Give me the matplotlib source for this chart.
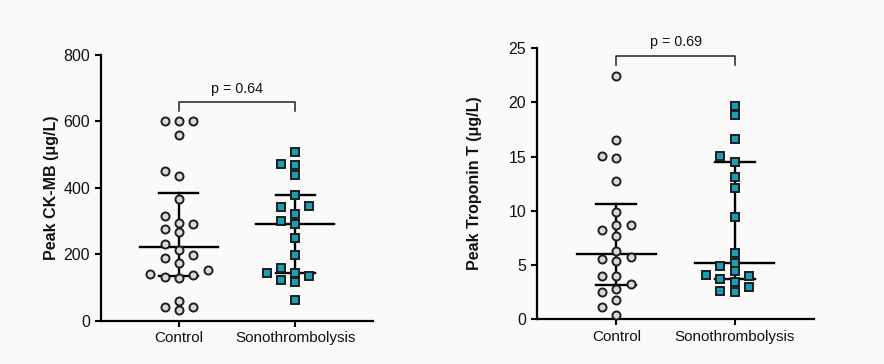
import numpy as np
import matplotlib
matplotlib.use("Agg")
import matplotlib.pyplot as plt

plt.rcParams['font.family'] = ['Liberation Sans', 'DejaVu Sans']

groups = ["Control", "Sonothrombolysis"]

# peak CK-MB (ug/L)
ckmb_control = [600, 600, 600, 560, 451, 436, 367, 315, 294, 292, 275, 267, 231,
                213, 196, 189, 173, 151, 141, 136, 131, 129, 58, 42, 40, 32]
ckmb_sono = [508, 473, 468, 440, 379, 345, 342, 320, 299, 292, 250, 198, 159,
             143, 143, 134, 121, 116, 62]
ckmb_p = "p = 0.64"

# peak troponin T (ug/L)
trop_control = [22.4, 16.5, 15.1, 14.9, 12.7, 9.9, 8.7, 8.7, 8.2, 7.7, 6.3, 5.7,
                5.5, 5.4, 4.0, 4.0, 3.2, 2.8, 2.5, 1.8, 1.1, 0.4]
trop_sono = [19.7, 18.8, 16.6, 15.1, 14.5, 13.1, 12.1, 9.4, 6.1, 5.2, 4.9, 4.4,
             4.1, 4.0, 3.7, 3.4, 3.0, 2.6, 2.5]
trop_p = "p = 0.69"

BG = "#fafafa"
TEAL = "#1b9db5"
GREY = "#d9d9d9"
EDGE = "#1e1e1e"


def swarm(ax, x0, vals, step_px=14.3, dmin_px=8.6):
    """grid-ish beeswarm in pixel space, returns x positions in data units"""
    pts = ax.transData.transform(np.column_stack([np.full(len(vals), x0), vals]))
    ypx = pts[:, 1]
    xpx_per_unit = ax.transData.transform([[1, 0]])[0, 0] - ax.transData.transform([[0, 0]])[0, 0]
    order = np.argsort(vals)
    placed = []
    offs = np.zeros(len(vals))
    cands = [0]
    for k in range(1, 12):
        cands += [-k * 0.5, k * 0.5]
    for i in order:
        for c in cands:
            ok = True
            for (px, py) in placed:
                if abs(c - px) * step_px < step_px * 0.95 and abs(ypx[i] - py) < dmin_px:
                    ok = False
                    break
            if ok:
                offs[i] = c
                placed.append((c, ypx[i]))
                break
    return x0 + offs * step_px / xpx_per_unit


def panel(ax, data, ylim, yticks, ylabel, ptext, pbar, pleg, ptxt):
    ax.set_facecolor(BG)
    ax.set_xlim(-0.67, 1.67)
    ax.set_ylim(*ylim)
    markers = ["o", "s"]
    fills = [GREY, TEAL]
    for i, vals in enumerate(data):
        vals = np.array(vals, dtype=float)
        med = np.median(vals)
        q1, q3 = np.percentile(vals, [25, 75], method="weibull")
        ax.plot([i - 0.336, i + 0.336], [med, med], color="black", lw=1.7, zorder=2)
        ax.plot([i - 0.168, i + 0.168], [q1, q1], color="black", lw=1.7, zorder=2)
        ax.plot([i - 0.168, i + 0.168], [q3, q3], color="black", lw=1.7, zorder=2)
        ax.plot([i, i], [q1, q3], color="black", lw=1.7, zorder=2)
        xs = swarm(ax, i, vals)
        ax.plot(xs, vals, ls="none", marker=markers[i], ms=5.8, mfc=fills[i],
                mec=EDGE, mew=1.4, zorder=3, clip_on=False)
    # significance bracket
    ax.plot([0, 0, 1, 1], [pleg, pbar, pbar, pleg], color="#222222", lw=1.1,
            clip_on=False, zorder=4)
    ax.text(0.5, ptxt, ptext, ha="center", va="center", fontsize=10.3,
            color="#111111")
    ax.set_xticks([0, 1])
    ax.set_xticklabels(groups, fontsize=11, color="#111111")
    ax.set_yticks(yticks)
    ax.tick_params(axis="y", labelsize=11.5, labelcolor="#111111")
    ax.tick_params(length=4.3, width=1.5)
    ax.set_ylabel(ylabel, fontsize=11.5, fontweight="bold", color="#111111")
    for s in ["top", "right"]:
        ax.spines[s].set_visible(False)
    for s in ["left", "bottom"]:
        ax.spines[s].set_linewidth(1.6)


fig = plt.figure(figsize=(8.84, 3.64), dpi=100, facecolor=BG)

ax1 = fig.add_axes([0.1143, 0.1195, 0.3077, 0.729])
panel(ax1, [ckmb_control, ckmb_sono], (0, 800), [0, 200, 400, 600, 800],
      "Peak CK-MB (\u03bcg/L)", ckmb_p, 659, 631, 698)
ax1.yaxis.set_label_coords(-0.156, 0.5)

ax2 = fig.add_axes([0.6075, 0.1236, 0.3133, 0.7437])
panel(ax2, [trop_control, trop_sono], (0, 25), [0, 5, 10, 15, 20, 25],
      "Peak Troponin T (\u03bcg/L)", trop_p, 24.3, 23.45, 25.55)
ax2.yaxis.set_label_coords(-0.197, 0.5)

fig.savefig("out.png", dpi=100, facecolor=BG)
